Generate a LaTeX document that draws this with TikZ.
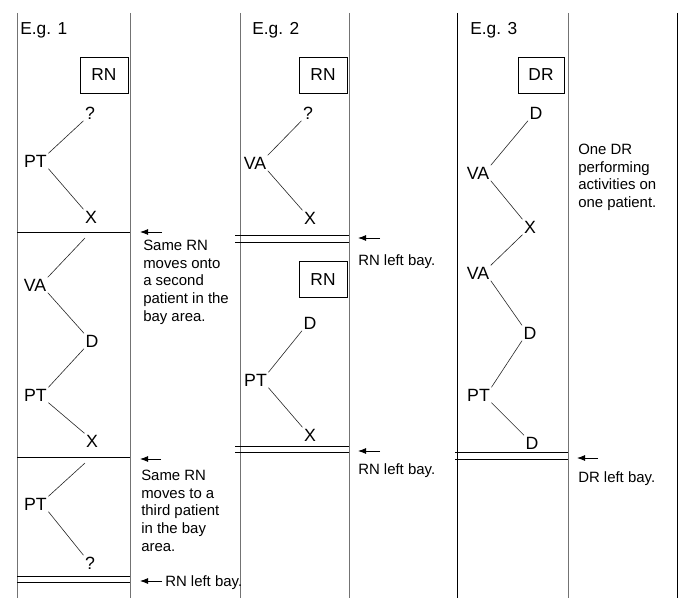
\documentclass[tikz,border=0pt]{standalone}
\usepackage{fontspec}
\setmainfont{Liberation Sans}
\usetikzlibrary{arrows.meta}
\begin{document}
\begin{tikzpicture}[x=0.75pt,y=-0.75pt,
  colline/.style={draw=black!55, line width=0.75pt},
  colblack/.style={draw=black, line width=0.6pt},
  hline/.style={draw=black, line width=0.6pt},
  lab/.style={inner sep=1pt, font=\fontsize{13.3}{15}\selectfont},
  tl/.style={draw=black!85, line width=0.45pt},
  title/.style={inner sep=0pt, anchor=base west, font=\fontsize{13}{15}\selectfont},
  rolebox/.style={draw=black, line width=0.6pt, minimum width=36pt, minimum height=27pt, inner sep=0pt, font=\fontsize{13}{15}\selectfont},
  note/.style={inner sep=0pt, anchor=north west, align=left, font=\fontsize{11.2}{13.2}\selectfont},
  notel/.style={inner sep=0pt, anchor=base west, font=\fontsize{11.2}{13.2}\selectfont},
  arr/.style={draw=black, line width=0.7pt, -{Latex[length=6pt,width=4.5pt]}}
]
\useasboundingbox (0,0) rectangle (680,598);

% column lines
\draw[colline] (17,13) -- (17,598);
\draw[colline] (130,13) -- (130,598);
\draw[colline] (240,13) -- (240,598);
\draw[colline] (349,13) -- (349,598);
\draw[colblack] (457,13) -- (457,598);
\draw[colline] (568,13) -- (568,598);
\draw[colblack] (677,13) -- (677,598);

% horizontal separators
\draw[hline] (17,232) -- (130,232);
\draw[hline] (17,457) -- (130,457);
\draw[hline] (17,576) -- (130,576);
\draw[hline] (17,582) -- (130,582);
\draw[hline] (235,235) -- (349,235);
\draw[hline] (235,242) -- (349,242);
\draw[hline] (235,446) -- (349,446);
\draw[hline] (235,452) -- (349,452);
\draw[hline] (455,452) -- (568,452);
\draw[hline] (455,459) -- (568,459);

% titles
\node[title] (e1) at (20,35) {E.g. 1};
\node[title] (e2) at (252,35) {E.g. 2};
\node[title] (e3) at (470,35) {E.g. 3};

% role boxes
\node[rolebox] (rn1) at (104,75) {RN};
\node[rolebox] (rn2) at (323,75) {RN};
\node[rolebox] (rn3) at (323,279.5) {RN};
\node[rolebox, minimum width=34.5pt] (dr1) at (541,75) {DR};

% Example 1
\node[lab] (p1) at (35.5,161) {PT};
\node[lab] (q1) at (90,113) {?};
\node[lab] (x1) at (91,217) {X};
\draw[tl] (p1.north east) -- (q1.south west);
\draw[tl] (p1.south east) -- (x1.north west);

\coordinate (c1) at (85,238);
\node[lab] (va2) at (35,285) {VA};
\node[lab] (d2) at (92,341) {D};
\node[lab] (p2) at (35.5,395) {PT};
\node[lab] (x2) at (92,441) {X};
\draw[tl] (c1) -- (va2.north east);
\draw[tl] (va2.south east) -- (d2.north west);
\draw[tl] (d2.south west) -- (p2.north east);
\draw[tl] (p2.south east) -- (x2.north west);

\coordinate (c2) at (85,463);
\node[lab] (p3) at (35.5,504) {PT};
\node[lab] (q3) at (90,563) {?};
\draw[tl] (c2) -- (p3.north east);
\draw[tl] (p3.south east) -- (q3.north west);

% Example 2
\node[lab] (va4) at (255,163) {VA};
\node[lab] (q4) at (308,113) {?};
\node[lab] (x4) at (310,218) {X};
\draw[tl] (va4.north east) -- (q4.south west);
\draw[tl] (va4.south east) -- (x4.north west);

\node[lab] (p5) at (255.5,380) {PT};
\node[lab] (d5) at (310,323) {D};
\node[lab] (x5) at (310,435) {X};
\draw[tl] (p5.north east) -- (d5.south west);
\draw[tl] (p5.south east) -- (x5.north west);

% Example 3
\node[lab] (d6) at (536,113) {D};
\node[lab] (va6) at (478,173) {VA};
\node[lab] (x6) at (530,227) {X};
\node[lab] (va7) at (478,273) {VA};
\node[lab] (d7) at (530,333) {D};
\node[lab] (p7) at (478.5,395) {PT};
\node[lab] (d8) at (532,443) {D};
\draw[tl] (va6.north east) -- (d6.south west);
\draw[tl] (va6.south east) -- (x6.north west);
\draw[tl] (x6.south west) -- (va7.north east);
\draw[tl] (va7.south east) -- (d7.north west);
\draw[tl] (d7.south west) -- (p7.north east);
\draw[tl] (p7.south east) -- (d8.north west);

% arrows
\coordinate (a1s) at (162,232); \coordinate (a1e) at (140,232);
\coordinate (a2s) at (161,459); \coordinate (a2e) at (140,459);
\coordinate (a3s) at (162,581); \coordinate (a3e) at (140,581);
\coordinate (a4s) at (380,238); \coordinate (a4e) at (358,238);
\coordinate (a5s) at (380,451); \coordinate (a5e) at (358,451);
\coordinate (a6s) at (598,458); \coordinate (a6e) at (577,458);
\draw[arr] (a1s) -- (a1e);
\draw[arr] (a2s) -- (a2e);
\draw[arr] (a3s) -- (a3e);
\draw[arr] (a4s) -- (a4e);
\draw[arr] (a5s) -- (a5e);
\draw[arr] (a6s) -- (a6e);

% notes
\node[note] (n1) at (143,240) {Same RN\\moves onto\\a second\\patient in the\\bay area.};
\node[note] (n2) at (141,470) {Same RN\\moves to a\\third patient\\in the bay\\area.};
\node[notel] (n3) at (165,586) {RN left bay.};
\node[notel] (n4) at (358,265) {RN left bay.};
\node[notel] (n5) at (358,474) {RN left bay.};
\node[note] (n6) at (578,144) {One DR\\performing\\activities on\\one patient.};
\node[notel] (n7) at (578,482) {DR left bay.};
\end{tikzpicture}
\end{document}
